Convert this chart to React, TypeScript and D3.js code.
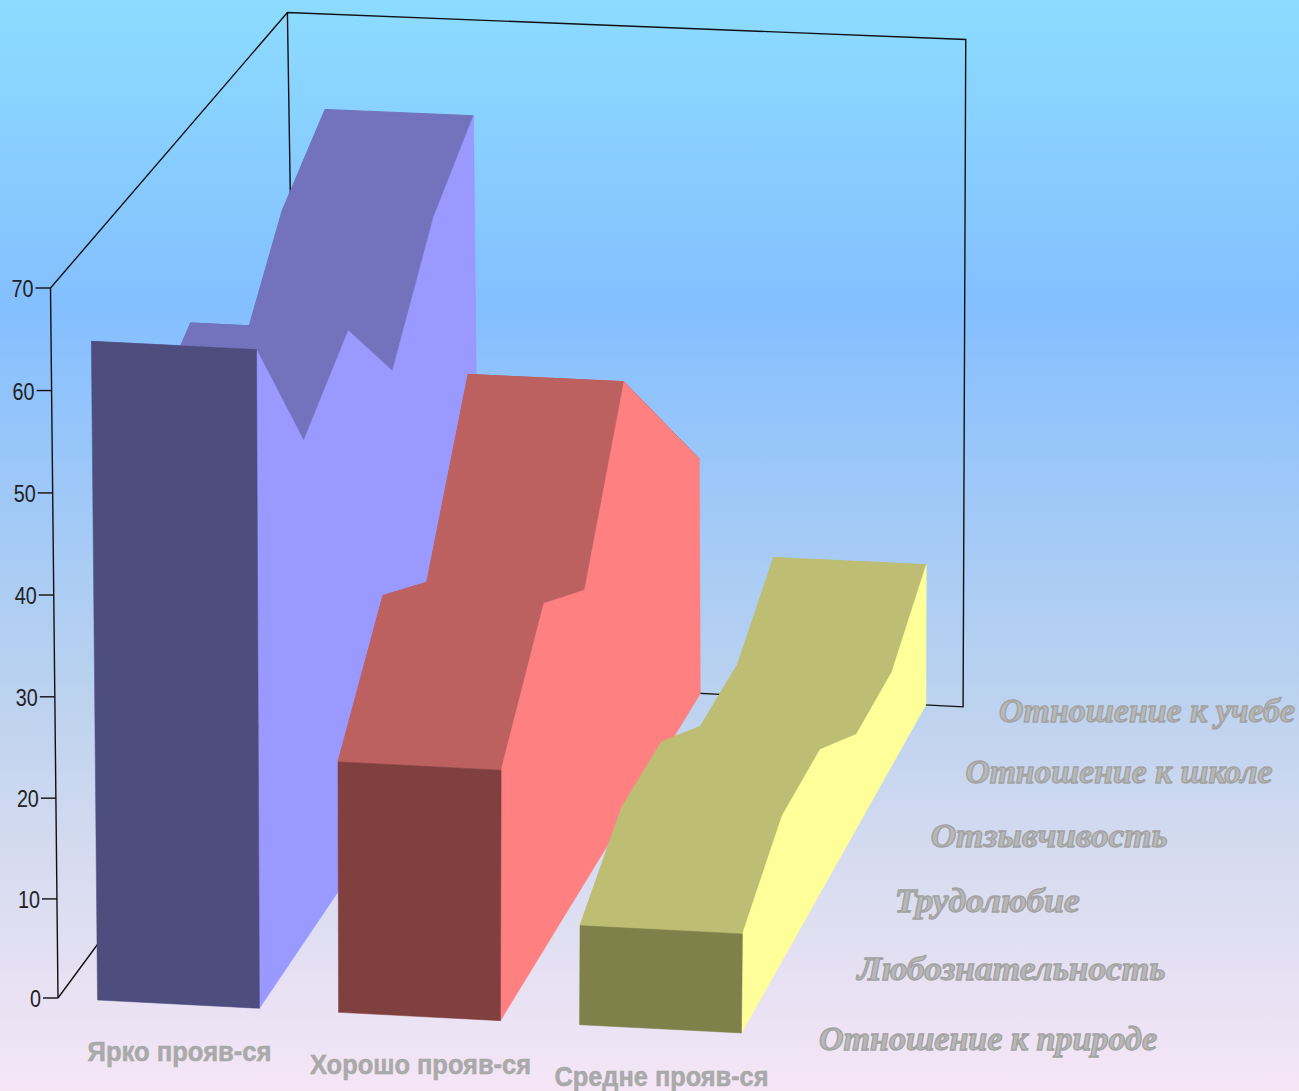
import * as d3 from "d3"

const WIDTH = 1299
const HEIGHT = 1091

const seriesNames = ["Ярко прояв-ся", "Хорошо прояв-ся", "Средне прояв-ся"]
const depthNames = [
  "Отношение к природе",
  "Любознательность",
  "Трудолюбие",
  "Отзывчивость",
  "Отношение к школе",
  "Отношение к учебе",
]
const brightValues = [65, 50, 55, 45, 55, 60]
const goodValues = [25, 35, 30, 45, 35, 25]
const mediumValues = [10, 15, 15, 10, 10, 15]
const allValues = [brightValues, goodValues, mediumValues]
const yTicks = [0, 10, 20, 30, 40, 50, 60, 70]

const sideColors = ["#9999ff", "#ff8080", "#ffff99"]
const topColors = ["#7373bd", "#bd6060", "#bdbd73"]
const frontColors = ["#4d4d7e", "#804040", "#80804a"]

const seriesLabelWidths = [184, 221, 214]
const depthLabelWidths = [338, 308, 185, 237, 307, 296]

// floor in the front plane, in px, and how far it runs
const FLOOR_W = 723
const xBand = d3.scaleBand<string>().domain(seriesNames).range([0, FLOOR_W]).paddingInner(0.328).paddingOuter(0.164)
const frontX = d3.scaleLinear().domain([0, FLOOR_W]).range([58, 781])
const frontY = d3.scaleLinear().domain([0, FLOOR_W]).range([998, 1035])
const heightPx = d3.scalePow().exponent(1.012).domain([0, 70]).range([0, 710])
const depth = d3.scalePoint<string>().domain(depthNames).range([0, 1])

// vanishing point of the depth lines
const VP = [3056, -3065]
const K = 0.087

function project(x: number, value: number, z: number): [number, number] {
  const s = 1 / (1 + K * z)
  const px = VP[0] + (frontX(x) - VP[0]) * s - z * 5 * Math.sin((Math.PI * x) / FLOOR_W)
  const py = VP[1] + (frontY(x) - VP[1]) * s
  const h = heightPx(value) * (1 - z * (0.07 - (0.01 * (px - 298)) / 665))
  const lean = (px - (410 + 420 * z)) * 0.00003 * h
  return [px + lean, py - h]
}

const poly = d3.line()

function Series({ idx }: { idx: number }) {
  const name = seriesNames[idx]
  const vals = allValues[idx]
  const x0 = xBand(name) as number
  const x1 = x0 + xBand.bandwidth()
  const zs = depthNames.map((d) => depth(d) as number)

  const strips = zs.slice(0, -1).map((z, i) => [
    project(x0, vals[i], z),
    project(x1, vals[i], z),
    project(x1, vals[i + 1], zs[i + 1]),
    project(x0, vals[i + 1], zs[i + 1]),
  ])
  const side = [
    ...zs.map((z, i) => project(x1, vals[i], z)),
    project(x1, 0, 1),
    project(x1, 0, 0),
  ]
  const front = [
    project(x0, 0, 0),
    project(x1, 0, 0),
    project(x1, vals[0], 0),
    project(x0, vals[0], 0),
  ]

  return (
    <g>
      {strips.slice().reverse().map((s, i) => (
        <path key={i} d={poly(s as [number, number][]) + "Z"} fill={topColors[idx]} stroke={topColors[idx]} strokeWidth={1} />
      ))}
      <path d={poly(side as [number, number][]) + "Z"} fill={sideColors[idx]} stroke={sideColors[idx]} strokeWidth={0.5} />
      <path d={poly(front as [number, number][]) + "Z"} fill={frontColors[idx]} stroke={frontColors[idx]} strokeWidth={0.5} />
    </g>
  )
}

export default function App() {
  const frame = [
    project(0, 0, 0),
    project(0, 70, 0),
    project(0, 70, 1),
    project(FLOOR_W, 70, 1),
    project(FLOOR_W, 0, 1),
    project(0, 0, 1),
    project(0, 0, 0),
  ]
  const backLeft = [project(0, 70, 1), project(0, 0, 1)]

  return (
    <svg width={WIDTH} height={HEIGHT} style={{ position: "fixed", left: 0, top: 0, display: "block" }}>
      <defs>
        <linearGradient id="bg" x1="0" y1="0" x2="0" y2="1">
          <stop offset="0" stopColor="#8cdcff" />
          <stop offset="0.28" stopColor="#84bfff" />
          <stop offset="0.64" stopColor="#bcd2ef" />
          <stop offset="0.8" stopColor="#d8dcf0" />
          <stop offset="1" stopColor="#f5e6f6" />
        </linearGradient>
      </defs>
      <rect width={WIDTH} height={HEIGHT} fill="url(#bg)" />

      <path d={poly(frame as [number, number][]) ?? ""} fill="none" stroke="#111" strokeWidth={1.4} />
      <path d={poly(backLeft as [number, number][]) ?? ""} fill="none" stroke="#111" strokeWidth={1.4} />

      {yTicks.map((t) => {
        const [x, y] = project(0, t, 0)
        return (
          <g key={t}>
            <line x1={x - 15} x2={x} y1={y} y2={y} stroke="#111" strokeWidth={1.4} />
            <text x={x - 17} y={y + 9} textAnchor="end" textLength={t >= 10 ? 22 : 11} lengthAdjust="spacingAndGlyphs"
              fontFamily="'Liberation Sans', Arial, sans-serif" fontSize={23} fill="#222">
              {t}
            </text>
          </g>
        )
      })}

      {seriesNames.map((_, i) => <Series key={i} idx={i} />)}

      {seriesNames.map((name, i) => {
        const mid = (xBand(name) as number) + xBand.bandwidth() / 2
        const [x, y] = project(mid, 0, 0)
        return (
          <text key={name} x={x + 1} y={y + 57} textAnchor="middle" textLength={seriesLabelWidths[i]} lengthAdjust="spacingAndGlyphs"
            fontFamily="'Liberation Sans', Arial, sans-serif" fontWeight="bold" fontSize={27} fill="#aaa" stroke="#a5a5a5" strokeWidth={0.5}>
            {name}
          </text>
        )
      })}

      {depthNames.map((name, i) => {
        const z = depth(name) as number
        const [x, y] = project(FLOOR_W, 0, z)
        return (
          <text key={name} x={x + 38 - 2 * z} y={y + 15} textLength={depthLabelWidths[i]} lengthAdjust="spacingAndGlyphs"
            fontFamily="'Liberation Serif', 'Times New Roman', serif" fontStyle="italic" fontWeight="bold" fontSize={33}
            fill="#b8b8b8" stroke="#a2a2a2" strokeWidth={1.3}>
            {name}
          </text>
        )
      })}
    </svg>
  )
}
